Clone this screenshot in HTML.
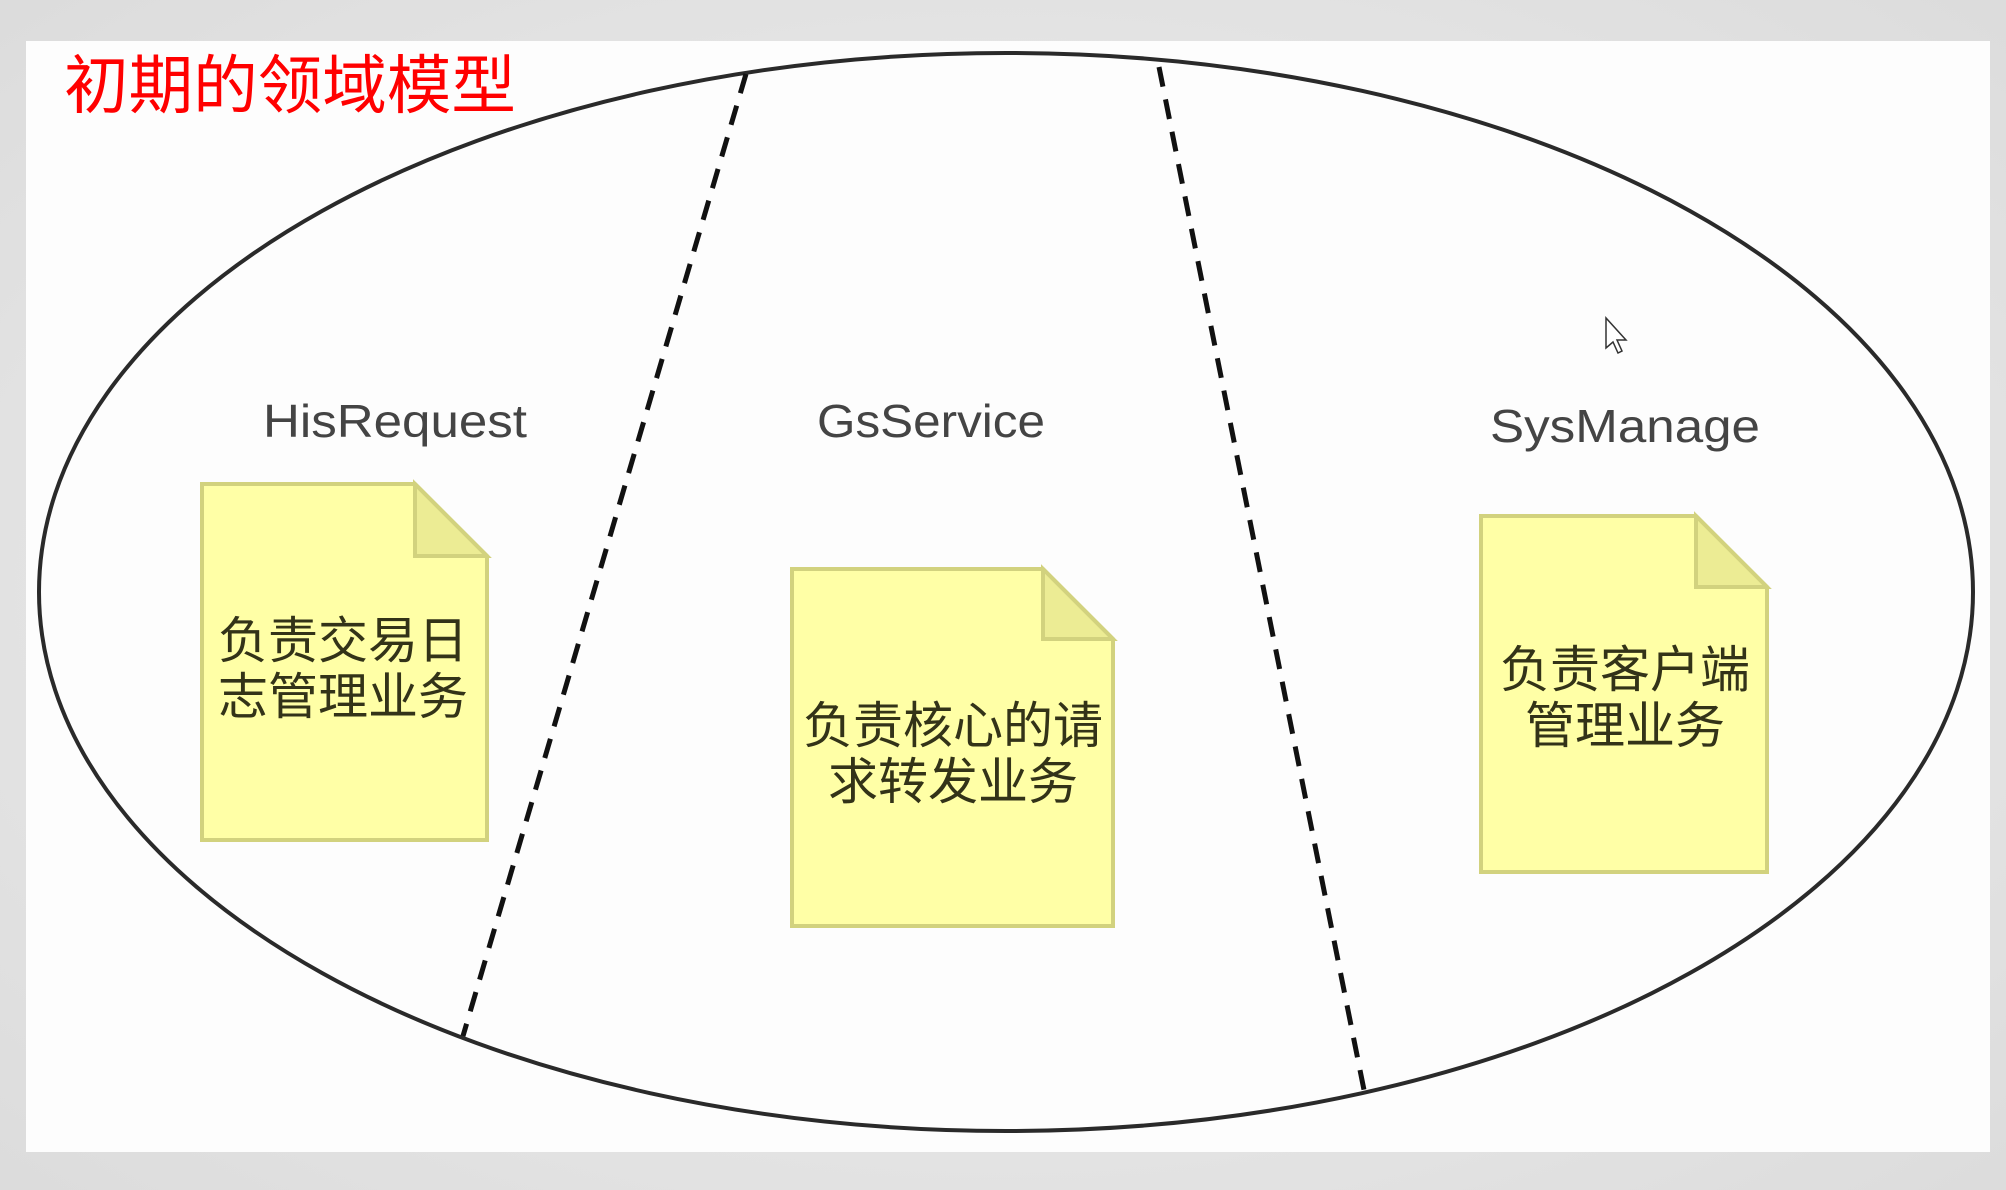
<!DOCTYPE html>
<html><head><meta charset="utf-8"><style>
html,body{margin:0;padding:0;background:#e6e6e6;}
svg{display:block}
</style></head><body>
<svg width="2006" height="1190" viewBox="0 0 2006 1190" xmlns="http://www.w3.org/2000/svg">
<defs><radialGradient id="bg" cx="0.5" cy="0.5" r="0.7"><stop offset="0" stop-color="#f2f2f2"/><stop offset="1" stop-color="#dcdcdc"/></radialGradient></defs>
<rect width="2006" height="1190" fill="url(#bg)"/>
<rect x="26" y="41" width="1964" height="1111" fill="#fdfdfd"/>
<text x="64" y="108" font-family="Liberation Sans, Noto Sans CJK SC, sans-serif" font-size="64" fill="#ff0000" textLength="452" lengthAdjust="spacingAndGlyphs">初期的领域模型</text>
<ellipse cx="1006" cy="592" rx="967" ry="539" fill="none" stroke="#2a2a2a" stroke-width="4"/>
<line x1="746" y1="74" x2="463" y2="1036" stroke="#111" stroke-width="5" stroke-dasharray="20,13"/>
<line x1="1159" y1="67" x2="1364" y2="1090" stroke="#111" stroke-width="5" stroke-dasharray="20,13"/>
<g font-family="Liberation Sans, sans-serif" font-size="46" fill="#444" text-anchor="middle">
<text x="395" y="437" textLength="264" lengthAdjust="spacingAndGlyphs">HisRequest</text>
<text x="931" y="437" textLength="228" lengthAdjust="spacingAndGlyphs">GsService</text>
<text x="1625" y="442" textLength="270" lengthAdjust="spacingAndGlyphs">SysManage</text>
</g>
<g stroke="#d2d27e" stroke-width="4" stroke-linejoin="miter">
<path d="M202 484 H415 L487 556 V840 H202 Z" fill="#ffffa6"/>
<path d="M415 484 V556 H487 Z" fill="#ecec94"/>
<path d="M792 569 H1043 L1113 639 V926 H792 Z" fill="#ffffa6"/>
<path d="M1043 569 V639 H1113 Z" fill="#ecec94"/>
<path d="M1481 516 H1696 L1767 587 V872 H1481 Z" fill="#ffffa6"/>
<path d="M1696 516 V587 H1767 Z" fill="#ecec94"/>
</g>
<g font-family="Liberation Sans, Noto Sans CJK SC, sans-serif" font-size="50" fill="#333318" text-anchor="middle">
<text x="343" y="658">负责交易日</text>
<text x="343" y="714">志管理业务</text>
<text x="953" y="743">负责核心的请</text>
<text x="953" y="799">求转发业务</text>
<text x="1625" y="687">负责客户端</text>
<text x="1625" y="743">管理业务</text>
</g>
<path d="M1606 318 l0 30 l7 -6 l5 11 l4 -2 l-5 -11 l9 0 Z" fill="#fff" stroke="#333" stroke-width="1.5"/>
</svg>
</body></html>
